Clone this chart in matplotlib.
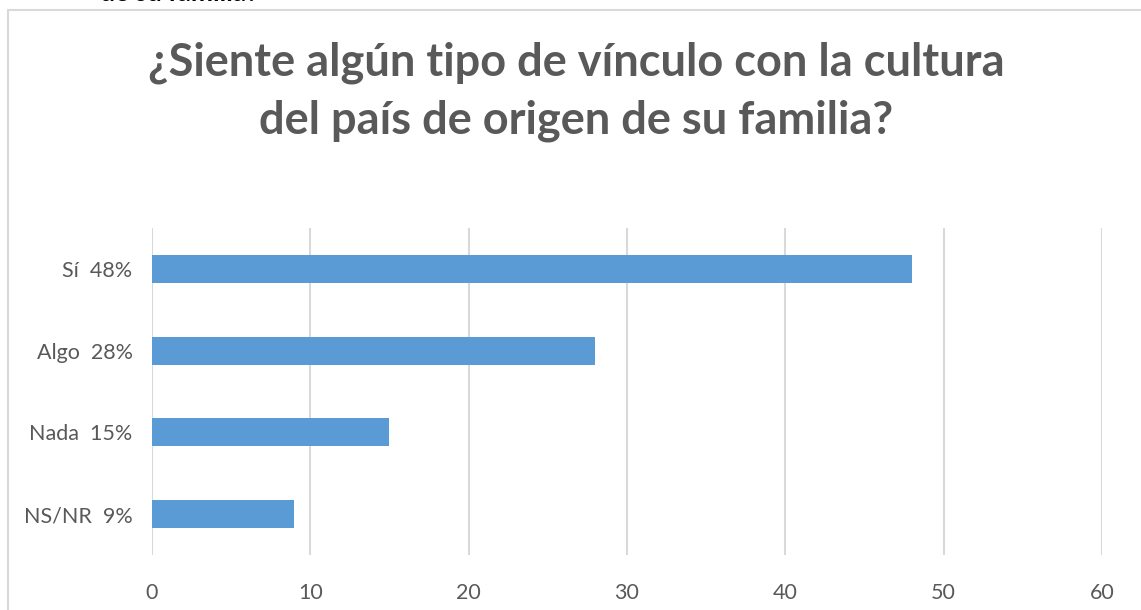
import numpy as np
import matplotlib.pyplot as plt
from matplotlib.patches import Rectangle

# data
categorias = ['Sí  48%', 'Algo  28%', 'Nada  15%', 'NS/NR  9%']
valores = [48, 28, 15, 9]
ticks_x = [0, 10, 20, 30, 40, 50, 60]

plt.rcParams['font.family'] = ['Lato', 'DejaVu Sans']

fig = plt.figure(figsize=(11.41, 6.10), dpi=100)
ax = fig.add_axes([0.1332, 0.0902, 0.8326, 0.536])

y = np.arange(len(categorias))[::-1]
ax.barh(y, valores, height=0.34, color='#5B9BD5', zorder=3)

ax.set_xlim(0, 60)
ax.set_ylim(-0.5, 3.5)
ax.set_xticks(ticks_x)
ax.set_yticks(y)
ax.set_yticklabels(categorias)
ax.grid(axis='x', color='#D9D9D9', linewidth=1.5, zorder=0)
for s in ax.spines.values():
    s.set_visible(False)
ax.tick_params(length=0, labelsize=15.5, labelcolor='#595959')
ax.tick_params(axis='x', pad=20)
ax.tick_params(axis='y', pad=14)

# title
fig.text(0.505, 0.849, '¿Siente algún tipo de vínculo con la cultura\ndel país de origen de su familia?',
         ha='center', va='center', fontsize=32.5, fontweight='bold', color='#595959',
         linespacing=1.45)

# border of the chart frame
fig.patches.append(Rectangle((8 / 1141, -0.1), 1.2, 1 - 10 / 610 + 0.1, transform=fig.transFigure,
                             fill=False, edgecolor='#D9D9D9', linewidth=1.5))

# cut-off text at the top
fig.text(0.088, 0.9985, 'de su familia?', ha='left', va='baseline', fontsize=19,
         fontweight='bold', color='black')

fig.savefig('out.png', dpi=100)
